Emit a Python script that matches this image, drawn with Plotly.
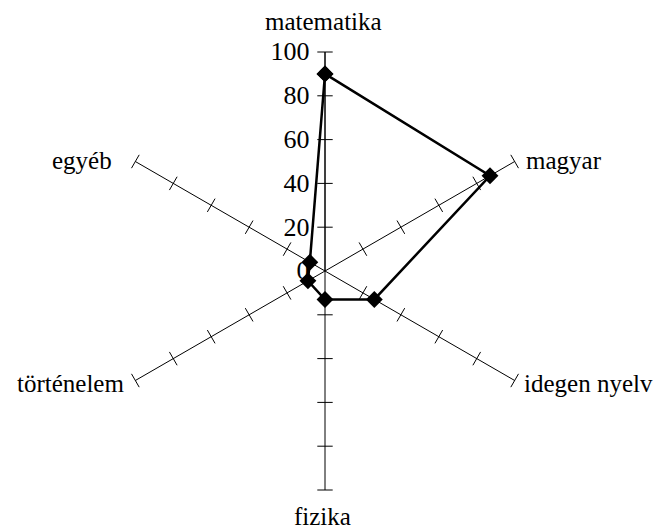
import plotly.graph_objs as go

kategoriak = ['matematika', 'magyar', 'idegen nyelv', 'fizika', 'történelem', 'egyéb']
ertekek = [90, 87, 26, 13, 9, 8]
osztasok = [20, 40, 60, 80, 100]

betu = '"Liberation Serif", "Times New Roman", "DejaVu Serif", serif'
eltol = 8  # a böngésző body margója
W, H = 664 - eltol, 531 - eltol

# tengelyfeliratok helye a képernyőn (x, y, igazítás)
felirat_hely = [(323, 22, 'center'), (524, 160, 'left'), (522, 383, 'left'),
                (322, 516, 'center'), (126, 383, 'right'), (114, 160, 'right')]

# kis keresztvonalak minden tengelyen (Excel-szerű osztások)
oszt_theta = []
oszt_r = []
oszt_szog = []
for i, k in enumerate(kategoriak):
    for r in osztasok:
        oszt_theta.append(k)
        oszt_r.append(r)
        oszt_szog.append(60 * i)

osztas_trace = go.Scatterpolar(
    r=oszt_r, theta=oszt_theta, mode='markers',
    marker=dict(symbol='line-ew', size=11, angle=oszt_szog,
                line=dict(color='black', width=1)),
    hoverinfo='skip', showlegend=False)

adat_trace = go.Scatterpolar(
    r=ertekek + ertekek[:1], theta=kategoriak + kategoriak[:1],
    mode='lines+markers',
    line=dict(color='black', width=2.5),
    marker=dict(symbol='diamond', size=13, color='black'),
    showlegend=False)

feliratok = []
for k, (x, y, igaz) in zip(kategoriak, felirat_hely):
    feliratok.append(dict(text=k, xref='paper', yref='paper',
                          x=(x - eltol) / W, y=1 - (y - eltol) / H,
                          xanchor=igaz, yanchor='middle', showarrow=False,
                          font=dict(family=betu, size=25, color='black')))

layout = go.Layout(
    width=W, height=H,
    margin=dict(l=0, r=0, t=0, b=0),
    paper_bgcolor='white', plot_bgcolor='white',
    font=dict(family=betu, size=26, color='black'),
    annotations=feliratok,
    polar=dict(
        domain=dict(x=[(106 - eltol) / W, (544 - eltol) / W],
                    y=[1 - (490 - eltol) / H, 1 - (52 - eltol) / H]),
        bgcolor='white',
        angularaxis=dict(direction='clockwise', rotation=90,
                         categoryorder='array', categoryarray=kategoriak,
                         showline=False, showgrid=True, gridcolor='black',
                         gridwidth=1, ticks='', showticklabels=False),
        radialaxis=dict(range=[0, 100], dtick=20, angle=90, tickangle=90,
                        side='counterclockwise',
                        showline=True, linecolor='black', linewidth=1,
                        showgrid=False, ticks='outside', ticklen=6,
                        tickcolor='rgba(0,0,0,0)',
                        tickfont=dict(family=betu, size=26, color='black')),
    ),
)

fig = go.Figure(data=[osztas_trace, adat_trace], layout=layout)
fig.write_html("out.html")
